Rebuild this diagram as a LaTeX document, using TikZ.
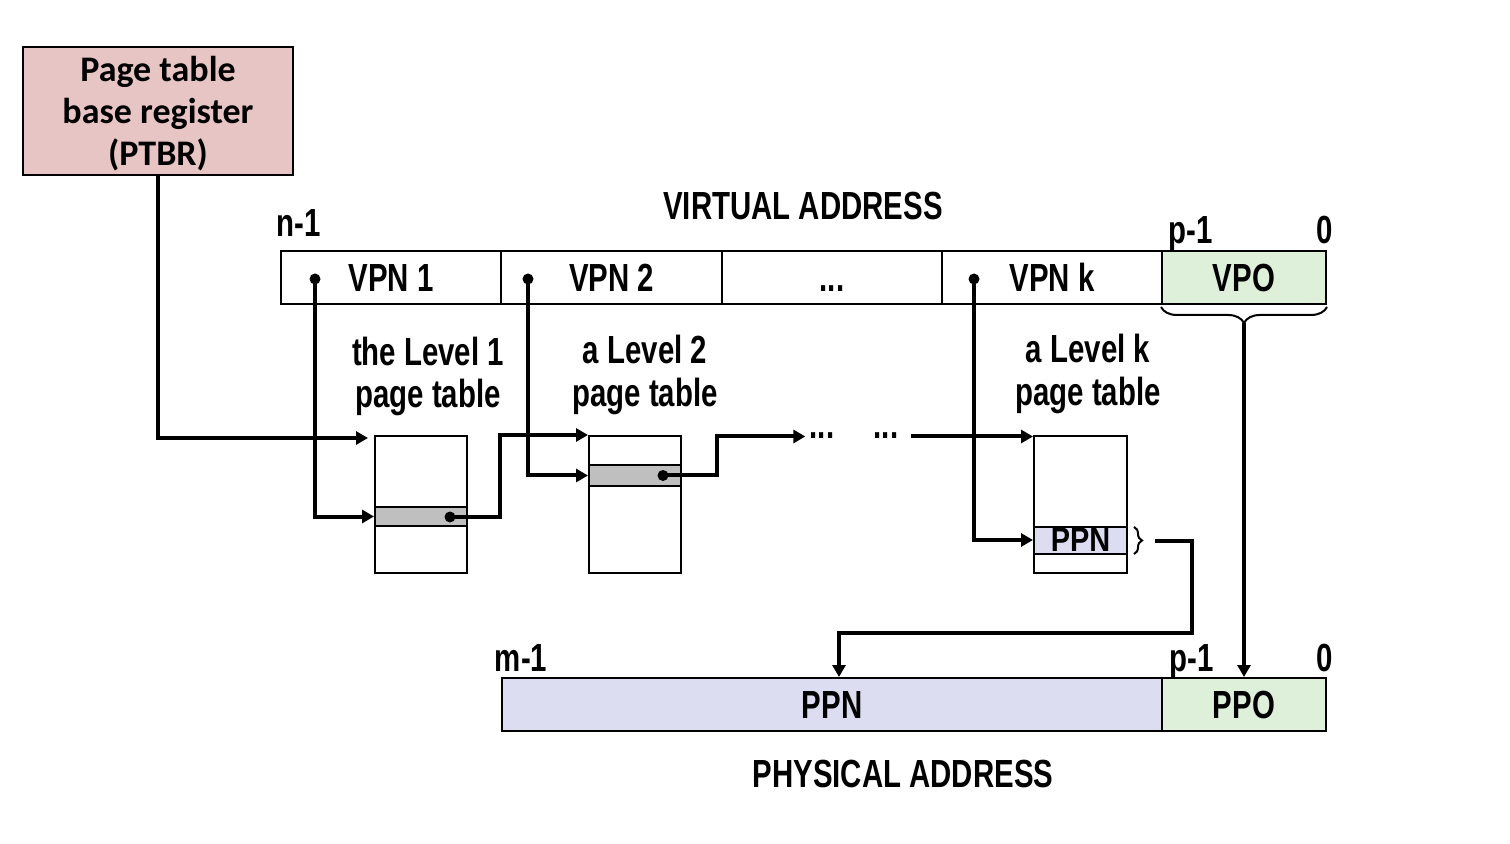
\documentclass[tikz,border=0pt]{standalone}
\usepackage{fontspec}
\usetikzlibrary{arrows.meta,decorations.pathreplacing}
\newfontfamily\nf[FakeStretch=0.75]{Liberation Sans Bold}
\newfontfamily\nfw[FakeStretch=0.85]{Liberation Sans Bold}
\newfontfamily\cf{Carlito}
\definecolor{ptbrpink}{HTML}{E8C5C5}
\definecolor{vgreen}{HTML}{DEEFDA}
\definecolor{lav}{HTML}{DCDDF1}
\definecolor{rowgray}{HTML}{BFBFBF}
\begin{document}
\begin{tikzpicture}[x=0.5pt,y=-0.5pt,
 lbl/.style={font=\nf\fontsize{19.6}{21.5}\selectfont, inner sep=0, anchor=base},
 cell/.style={draw, line width=1pt, minimum height=26.5pt, inner sep=0, text height=14pt, text depth=0pt, font=\nf\fontsize{19.6}{21.5}\selectfont},
 tbl/.style={draw, line width=1pt, minimum width=46pt, minimum height=68.5pt, inner sep=0},
 trow/.style={draw, line width=1pt, minimum width=46pt, inner sep=0},
 conn/.style={line width=2pt},
 arr/.style={conn, -{Triangle[length=6pt,width=6.5pt]}},
 pt/.style={circle, fill, inner sep=0, minimum size=5.5pt},
 brc/.style={line width=1pt, decorate},
 ]
\useasboundingbox (0,0) rectangle (1510,844);

% PTBR
\node[draw, fill=ptbrpink, line width=1pt, minimum width=135pt, minimum height=64pt, inner sep=0] (ptbr) at (158,111) {};
\node[align=center, font=\cf\bfseries\fontsize{18}{21}\selectfont, inner sep=0] (ptbrt) at (158,114) {Page table\\base register\\(PTBR)};

% Virtual address
\node[lbl] (va) at (803,220) {VIRTUAL ADDRESS};
\node[lbl] (n1) at (299,237) {n-1};
\node[lbl] (p1a) at (1191,244) {p-1};
\node[lbl] (z1) at (1325,244) {0};
\node[cell, minimum width=110pt] (vpn1) at (391,277.5) {VPN 1};
\node[cell, minimum width=110.5pt] (vpn2) at (611.5,277.5) {VPN 2};
\node[cell, minimum width=110pt] (vdots) at (832,277.5) {...};
\node[cell, minimum width=110pt] (vpnk) at (1052,277.5) {VPN k};
\node[cell, minimum width=82pt, fill=vgreen] (vpo) at (1244,277.5) {VPO};

% table labels
\node[lbl] (l1a) at (428,366) {the Level 1};
\node[lbl] (l1b) at (428,408) {page table};
\node[lbl] (l2a) at (645,364) {a Level 2};
\node[lbl] (l2b) at (645,407) {page table};
\node[lbl] (lka) at (1088,363) {a Level k};
\node[lbl] (lkb) at (1088,406) {page table};

% tables
\node[tbl] (tab1) at (421,504.5) {};
\node[trow, fill=rowgray, minimum height=9.5pt] (r1) at (421,516.5) {};
\node[tbl] (tab2) at (635,504.5) {};
\node[trow, fill=rowgray, minimum height=10.5pt] (r2) at (635,475.5) {};
\node[tbl, minimum width=46.5pt] (tabk) at (1080.5,504.5) {};
\node[trow, fill=lav, minimum width=46.5pt, minimum height=13.5pt, text height=12pt, text depth=0pt,
      font=\nfw\fontsize{17}{19}\selectfont] (rk) at (1080.5,540) {PPN};

% ellipses
\node[lbl, anchor=center, text height=2pt, text depth=0pt] (ell1) at (822,436.5) {...};
\node[lbl, anchor=center, text height=2pt, text depth=0pt] (ell2) at (886,436.5) {...};

% dots
\node[pt] (d1) at (315,279) {};
\node[pt] (d2) at (528,279) {};
\node[pt] (dk) at (974,279) {};
\node[pt] (e1) at (450,517) {};
\node[pt] (e2) at (663,475.5) {};

% physical address
\node[lbl] (m1) at (521,671) {m-1};
\node[lbl] (p1b) at (1192,671) {p-1};
\node[lbl] (z2) at (1325,671) {0};
\node[cell, minimum width=330pt, fill=lav] (ppnp) at (832,704.5) {PPN};
\node[cell, minimum width=82pt, fill=vgreen] (ppo) at (1244,704.5) {PPO};
\node[lbl] (pa) at (903,787) {PHYSICAL ADDRESS};

% connectors
\draw[arr, shorten >=3pt] (ptbr.south) |- ([yshift=-1.5pt]tab1.north west);
\draw[arr] (d1.center) |- (r1.west);
\draw[arr] (e1.center) -- ++(50,0) |- (tab2.north west);
\draw[arr] (d2.center) |- (r2.west);
\draw[arr, shorten >=2pt] (e2.center) -- ++(54,0) |- (ell1.west);
\draw[arr, shorten <=6pt] (ell2.east) -- (ell2.east -| tabk.west);
\draw[arr] (dk.center) |- (rk.west);

% braces
\draw[brc, decoration={brace,amplitude=4pt}] (1134,527) -- (1134,554);
\coordinate (bt) at (1155,540.5);
\draw[arr] (bt) -- ++(37,0) -- ++(0,92.5) -| ([xshift=3.5pt]ppnp.north);
\draw[brc, decoration={brace,amplitude=8pt}] ([yshift=-1pt]vpo.south east) -- ([yshift=-1pt]vpo.south west);
\coordinate (vt) at (1244,323);
\draw[arr] (vt) -- (vt |- ppo.north);
\end{tikzpicture}
\end{document}
